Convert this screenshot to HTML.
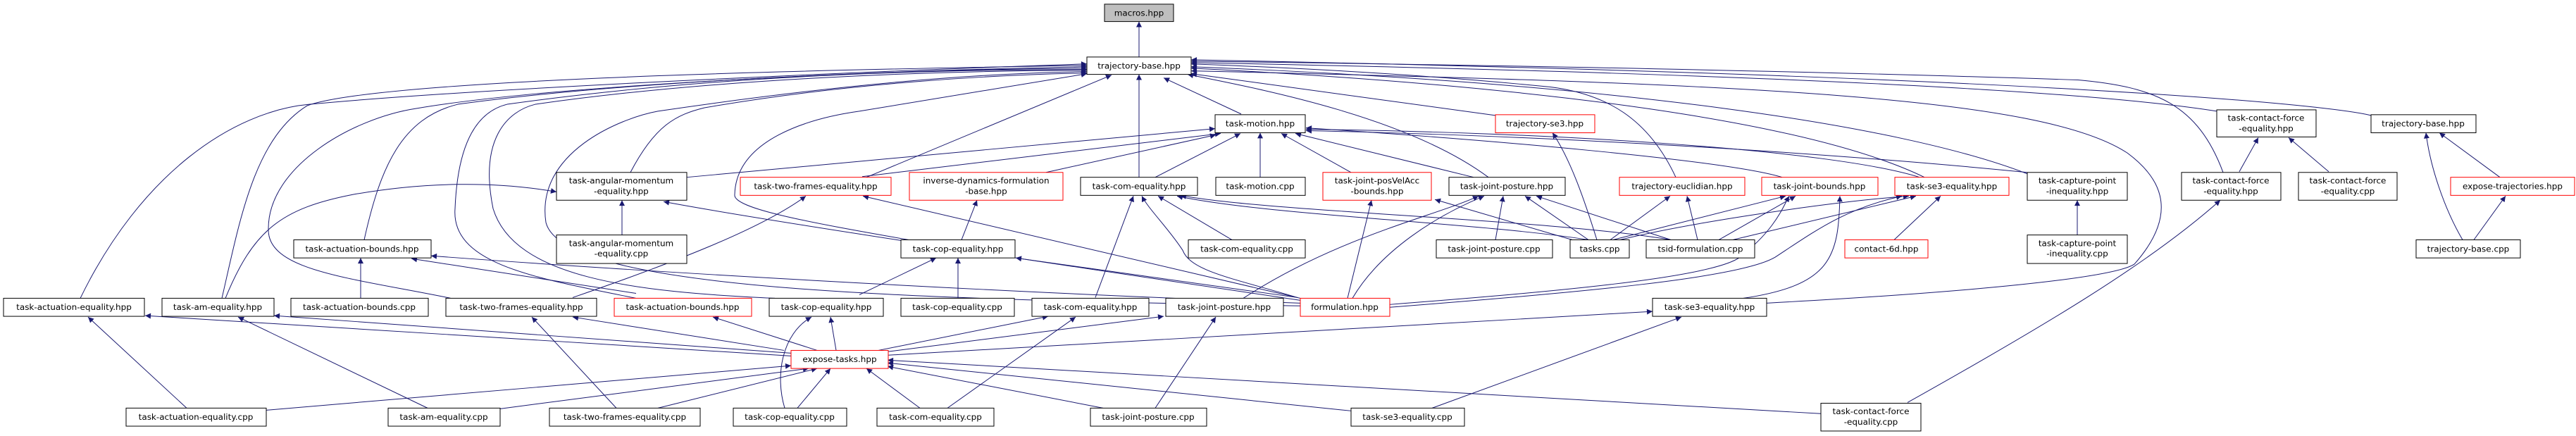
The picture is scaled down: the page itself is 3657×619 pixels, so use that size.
<!DOCTYPE html>
<html><head><meta charset="utf-8"><style>
html,body{margin:0;padding:0;background:#fff;}
svg{display:block;}
text{font-family:"DejaVu Sans","Liberation Sans",sans-serif;font-size:12px;fill:#000;}
.e{fill:none;stroke:#191970;stroke-width:1;marker-end:url(#a);}
.n{fill:#fff;stroke:#000;stroke-width:1;}
.r{fill:#fff;stroke:#ff0000;stroke-width:1;}
</style></head><body>
<svg width="3657" height="619" viewBox="0 0 3657 619" xmlns="http://www.w3.org/2000/svg">
<defs><marker id="a" viewBox="0 0 10 10" refX="10" refY="5" markerWidth="10" markerHeight="8" markerUnits="userSpaceOnUse" orient="auto"><path d="M0,0 L10,5 L0,10 z" fill="#191970"/></marker></defs>
<g transform="scale(1,0.987)">
<g>
<path class="e" d="M1617,82 L1617,31"/>
<path class="e" d="M114,429 C200,250 330,160 440,150 C700,125 1300,100 1543,92"/>
<path class="e" d="M315,429 C340,320 360,200 436,152 C550,110 1300,98 1543,94"/>
<path class="e" d="M320,429 C360,330 400,300 500,280 C600,262 700,260 790,276"/>
<path class="e" d="M640,429 C500,400 380,390 381,330 C380,240 500,170 591,156 C800,120 1300,100 1543,96"/>
<path class="e" d="M517,345 C540,240 570,170 650,150 C900,115 1300,100 1543,98"/>
<path class="e" d="M903,429 C760,400 640,380 646,300 C650,200 680,160 720,150 C1000,110 1300,100 1543,100"/>
<path class="e" d="M1100,429 C900,420 730,400 700,300 C680,200 720,160 760,150 C1000,115 1300,102 1543,101"/>
<path class="e" d="M1846,440 C1300,430 800,420 775,320 C760,220 880,170 934,160 C1200,120 1400,105 1543,103"/>
<path class="e" d="M895,248 C930,180 960,165 1000,155 C1200,120 1400,108 1543,105"/>
<path class="e" d="M1230,255 L1578,108"/>
<path class="e" d="M1290,345 C1150,320 1040,300 1043,280 C1045,200 1150,170 1220,160 L1543,106"/>
<path class="e" d="M975,255 L1725,185"/>
<path class="e" d="M1224,254 L1733,192"/>
<path class="e" d="M1485,248 L1726,194"/>
<path class="e" d="M1640,255 L1761,192"/>
<path class="e" d="M1789,255 L1789,191"/>
<path class="e" d="M1918,248 L1819,192"/>
<path class="e" d="M2092,255 L1839,192"/>
<path class="e" d="M2113,255 C2000,170 1800,130 1686,107"/>
<path class="e" d="M2123,166 L1691,106"/>
<path class="e" d="M1762,164 L1652,112"/>
<path class="e" d="M1617,255 L1617,107"/>
<path class="e" d="M2379,255 C2340,170 2280,135 2200,125 C2000,105 1800,96 1691,92"/>
<path class="e" d="M2530,255 C2450,230 2100,200 1854,184"/>
<path class="e" d="M2732,255 C2600,190 2300,130 1691,98"/>
<path class="e" d="M2725,255 C2600,215 2200,190 1854,186"/>
<path class="e" d="M2878,250 C2700,180 2300,120 1691,96"/>
<path class="e" d="M2878,248 C2600,220 2200,195 1854,188"/>
<path class="e" d="M3147,160 C2900,120 2200,100 1691,90"/>
<path class="e" d="M3366,166 C3300,150 2900,110 1691,86"/>
<path class="e" d="M3156,248 C3120,150 3060,125 2950,115 C2500,100 2000,92 1691,88"/>
<path class="e" d="M2508,436 C2800,420 3000,400 3030,380 C3100,300 3060,250 3020,220 C2900,140 2500,120 1691,102"/>
<path class="e" d="M1365,345 L1387,288"/>
<path class="e" d="M1749,345 L1644,282"/>
<path class="e" d="M2255,345 C2100,320 1800,310 1671,282"/>
<path class="e" d="M2372,345 C2200,315 1800,305 1676,281"/>
<path class="e" d="M2232,345 L2037,287"/>
<path class="e" d="M2255,345 L2165,282"/>
<path class="e" d="M2372,345 L2181,282"/>
<path class="e" d="M2123,345 L2134,282"/>
<path class="e" d="M1920,429 C1960,360 2040,310 2107,282"/>
<path class="e" d="M1765,429 C1900,340 2040,310 2099,282"/>
<path class="e" d="M1913,429 L1947,288"/>
<path class="e" d="M1842,428 C1750,400 1690,390 1679,360 C1660,330 1630,300 1621,282"/>
<path class="e" d="M1555,428 L1609,282"/>
<path class="e" d="M1842,428 L1442,371"/>
<path class="e" d="M1850,430 L1225,282"/>
<path class="e" d="M1360,429 L1360,371"/>
<path class="e" d="M1220,424 L1329,371"/>
<path class="e" d="M2267,345 C2250,290 2230,230 2204,191"/>
<path class="e" d="M2286,345 L2371,282"/>
<path class="e" d="M2410,345 L2395,282"/>
<path class="e" d="M2290,345 L2535,282"/>
<path class="e" d="M2440,345 L2549,282"/>
<path class="e" d="M2300,345 C2400,320 2600,290 2710,282"/>
<path class="e" d="M2460,345 L2720,282"/>
<path class="e" d="M1973,438 C2200,420 2430,400 2470,370 C2520,330 2530,300 2540,282"/>
<path class="e" d="M1973,442 C2250,420 2470,400 2520,370 C2580,330 2620,300 2700,282"/>
<path class="e" d="M2475,429 C2600,410 2610,370 2612,282"/>
<path class="e" d="M2689,345 L2755,282"/>
<path class="e" d="M2949,338 L2949,288"/>
<path class="e" d="M3179,247 L3206,198"/>
<path class="e" d="M3306,247 L3249,198"/>
<path class="e" d="M3496,345 C3470,300 3450,240 3444,191"/>
<path class="e" d="M3512,345 L3557,282"/>
<path class="e" d="M3549,255 L3463,191"/>
<path class="e" d="M2708,579 C2900,470 3050,380 3152,288"/>
<path class="e" d="M2033,587 L2387,456"/>
<path class="e" d="M1259,511 L2346,448"/>
<path class="e" d="M512,429 L512,371"/>
<path class="e" d="M903,422 L584,372"/>
<path class="e" d="M1846,436 C1400,420 900,390 612,368"/>
<path class="e" d="M883,338 L883,288"/>
<path class="e" d="M1846,432 C1500,380 1100,320 942,290"/>
<path class="e" d="M813,428 C950,380 1080,330 1144,282"/>
<path class="e" d="M1123,512 L206,454"/>
<path class="e" d="M1123,508 L389,454"/>
<path class="e" d="M1113,504 L813,456"/>
<path class="e" d="M1160,504 L1012,456"/>
<path class="e" d="M1187,504 L1179,456"/>
<path class="e" d="M1247,504 L1488,455"/>
<path class="e" d="M1259,506 L1652,455"/>
<path class="e" d="M378,590 L1123,526"/>
<path class="e" d="M710,588 L1148,530"/>
<path class="e" d="M934,587 L1160,530"/>
<path class="e" d="M1132,587 L1179,530"/>
<path class="e" d="M1306,587 L1230,530"/>
<path class="e" d="M1566,587 L1260,527"/>
<path class="e" d="M1918,591 L1260,522"/>
<path class="e" d="M2585,595 L1260,518"/>
<path class="e" d="M265,587 L125,456"/>
<path class="e" d="M607,587 L338,456"/>
<path class="e" d="M875,587 L755,456"/>
<path class="e" d="M1114,587 C1100,540 1110,480 1152,456"/>
<path class="e" d="M1345,587 L1527,456"/>
<path class="e" d="M1640,587 L1726,456"/>
</g>
<g>
<rect x="1568" y="6" width="98" height="25" fill="#bfbfbf" stroke="#000"/><text x="1617" y="23" text-anchor="middle">macros.hpp</text>
<rect class="n" x="1543" y="82" width="148" height="25"/><text x="1617" y="99" text-anchor="middle">trajectory-base.hpp</text>
<rect class="n" x="1725" y="165" width="128" height="26"/><text x="1789" y="182" text-anchor="middle">task-motion.hpp</text>
<rect class="r" x="2123" y="165" width="141" height="26"/><text x="2193" y="182" text-anchor="middle">trajectory-se3.hpp</text>
<rect class="n" x="3147" y="158" width="141" height="39"/><text x="3217" y="174" text-anchor="middle">task-contact-force</text><text x="3217" y="189" text-anchor="middle">-equality.hpp</text>
<rect class="n" x="3366" y="165" width="149" height="26"/><text x="3440" y="182" text-anchor="middle">trajectory-base.hpp</text>
<rect class="n" x="790" y="248" width="185" height="40"/><text x="882" y="264" text-anchor="middle">task-angular-momentum</text><text x="882" y="279" text-anchor="middle">-equality.hpp</text>
<rect class="r" x="1051" y="255" width="214" height="26"/><text x="1158" y="272" text-anchor="middle">task-two-frames-equality.hpp</text>
<rect class="r" x="1291" y="248" width="218" height="40"/><text x="1400" y="264" text-anchor="middle">inverse-dynamics-formulation</text><text x="1400" y="279" text-anchor="middle">-base.hpp</text>
<rect class="n" x="1534" y="255" width="166" height="26"/><text x="1617" y="272" text-anchor="middle">task-com-equality.hpp</text>
<rect class="n" x="1726" y="255" width="127" height="26"/><text x="1789" y="272" text-anchor="middle">task-motion.cpp</text>
<rect class="r" x="1878" y="248" width="154" height="40"/><text x="1955" y="264" text-anchor="middle">task-joint-posVelAcc</text><text x="1955" y="279" text-anchor="middle">-bounds.hpp</text>
<rect class="n" x="2057" y="255" width="165" height="26"/><text x="2139" y="272" text-anchor="middle">task-joint-posture.hpp</text>
<rect class="r" x="2299" y="255" width="178" height="26"/><text x="2388" y="272" text-anchor="middle">trajectory-euclidian.hpp</text>
<rect class="r" x="2501" y="255" width="165" height="26"/><text x="2583" y="272" text-anchor="middle">task-joint-bounds.hpp</text>
<rect class="r" x="2690" y="255" width="162" height="26"/><text x="2771" y="272" text-anchor="middle">task-se3-equality.hpp</text>
<rect class="n" x="2878" y="248" width="142" height="40"/><text x="2949" y="264" text-anchor="middle">task-capture-point</text><text x="2949" y="279" text-anchor="middle">-inequality.hpp</text>
<rect class="n" x="3097" y="248" width="141" height="40"/><text x="3167" y="264" text-anchor="middle">task-contact-force</text><text x="3167" y="279" text-anchor="middle">-equality.hpp</text>
<rect class="n" x="3263" y="248" width="140" height="40"/><text x="3333" y="264" text-anchor="middle">task-contact-force</text><text x="3333" y="279" text-anchor="middle">-equality.cpp</text>
<rect class="r" x="3479" y="255" width="176" height="26"/><text x="3567" y="272" text-anchor="middle">expose-trajectories.hpp</text>
<rect class="n" x="417" y="345" width="195" height="26"/><text x="514" y="362" text-anchor="middle">task-actuation-bounds.hpp</text>
<rect class="n" x="790" y="338" width="185" height="41"/><text x="882" y="354" text-anchor="middle">task-angular-momentum</text><text x="882" y="369" text-anchor="middle">-equality.cpp</text>
<rect class="n" x="1279" y="345" width="162" height="26"/><text x="1360" y="362" text-anchor="middle">task-cop-equality.hpp</text>
<rect class="n" x="1687" y="345" width="166" height="26"/><text x="1770" y="362" text-anchor="middle">task-com-equality.cpp</text>
<rect class="n" x="2039" y="345" width="165" height="26"/><text x="2121" y="362" text-anchor="middle">task-joint-posture.cpp</text>
<rect class="n" x="2229" y="345" width="84" height="26"/><text x="2271" y="362" text-anchor="middle">tasks.cpp</text>
<rect class="n" x="2337" y="345" width="154" height="26"/><text x="2414" y="362" text-anchor="middle">tsid-formulation.cpp</text>
<rect class="r" x="2619" y="345" width="118" height="26"/><text x="2678" y="362" text-anchor="middle">contact-6d.hpp</text>
<rect class="n" x="2878" y="338" width="142" height="41"/><text x="2949" y="354" text-anchor="middle">task-capture-point</text><text x="2949" y="369" text-anchor="middle">-inequality.cpp</text>
<rect class="n" x="3430" y="345" width="148" height="26"/><text x="3504" y="362" text-anchor="middle">trajectory-base.cpp</text>
<rect class="n" x="5" y="429" width="200" height="26"/><text x="105" y="446" text-anchor="middle">task-actuation-equality.hpp</text>
<rect class="n" x="230" y="429" width="159" height="26"/><text x="309" y="446" text-anchor="middle">task-am-equality.hpp</text>
<rect class="n" x="413" y="429" width="195" height="26"/><text x="510" y="446" text-anchor="middle">task-actuation-bounds.cpp</text>
<rect class="n" x="633" y="429" width="214" height="26"/><text x="740" y="446" text-anchor="middle">task-two-frames-equality.hpp</text>
<rect class="r" x="872" y="429" width="195" height="26"/><text x="969" y="446" text-anchor="middle">task-actuation-bounds.hpp</text>
<rect class="n" x="1092" y="429" width="162" height="26"/><text x="1173" y="446" text-anchor="middle">task-cop-equality.hpp</text>
<rect class="n" x="1279" y="429" width="161" height="26"/><text x="1359" y="446" text-anchor="middle">task-cop-equality.cpp</text>
<rect class="n" x="1465" y="429" width="166" height="26"/><text x="1548" y="446" text-anchor="middle">task-com-equality.hpp</text>
<rect class="n" x="1655" y="429" width="167" height="26"/><text x="1738" y="446" text-anchor="middle">task-joint-posture.hpp</text>
<rect class="r" x="1846" y="429" width="127" height="26"/><text x="1909" y="446" text-anchor="middle">formulation.hpp</text>
<rect class="n" x="2346" y="429" width="162" height="26"/><text x="2427" y="446" text-anchor="middle">task-se3-equality.hpp</text>
<rect class="r" x="1123" y="504" width="138" height="26"/><text x="1192" y="521" text-anchor="middle">expose-tasks.hpp</text>
<rect class="n" x="179" y="587" width="199" height="26"/><text x="278" y="604" text-anchor="middle">task-actuation-equality.cpp</text>
<rect class="n" x="551" y="587" width="159" height="26"/><text x="630" y="604" text-anchor="middle">task-am-equality.cpp</text>
<rect class="n" x="780" y="587" width="214" height="26"/><text x="887" y="604" text-anchor="middle">task-two-frames-equality.cpp</text>
<rect class="n" x="1041" y="587" width="161" height="26"/><text x="1121" y="604" text-anchor="middle">task-cop-equality.cpp</text>
<rect class="n" x="1245" y="587" width="166" height="26"/><text x="1328" y="604" text-anchor="middle">task-com-equality.cpp</text>
<rect class="n" x="1548" y="587" width="165" height="26"/><text x="1630" y="604" text-anchor="middle">task-joint-posture.cpp</text>
<rect class="n" x="1918" y="587" width="161" height="26"/><text x="1998" y="604" text-anchor="middle">task-se3-equality.cpp</text>
<rect class="n" x="2585" y="580" width="142" height="40"/><text x="2656" y="596" text-anchor="middle">task-contact-force</text><text x="2656" y="611" text-anchor="middle">-equality.cpp</text>
</g>
</g>
</svg>
</body></html>
